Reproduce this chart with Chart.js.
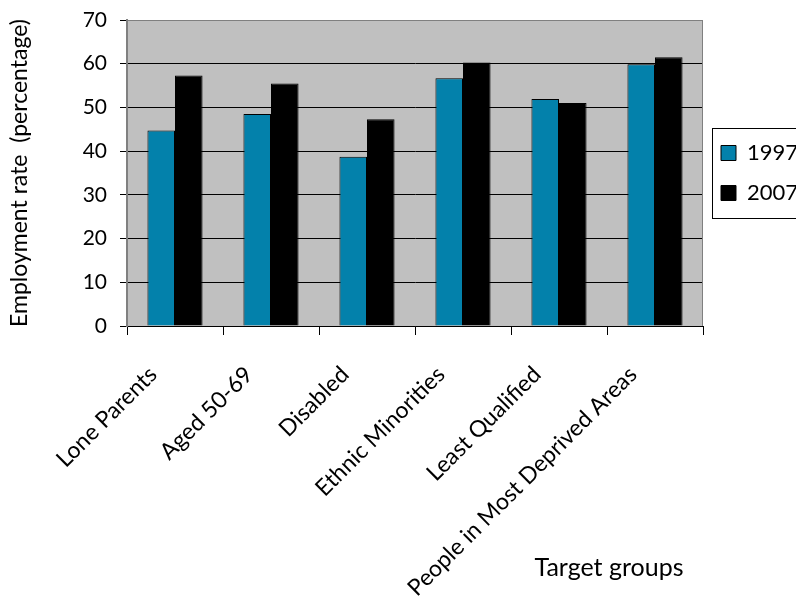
<!DOCTYPE html>
<html lang="en">

<head>
  <meta charset="UTF-8">
  <title>Employment rate by target group</title>
  <style>
    html, body { margin: 0; padding: 0; background: #fff; }
    #wrap { width: 796px; height: 616px; }
  </style>
</head>

<body>
  <div id="wrap"><canvas id="chart"></canvas></div>
  <script src="https://cdn.jsdelivr.net/npm/chart.js@4/dist/chart.umd.min.js"></script>
  <script>
    const groups = ['Lone Parents', 'Aged 50-69', 'Disabled', 'Ethnic Minorities', 'Least Qualified', 'People in Most Deprived Areas']
    const rate1997 = [44.7, 48.5, 38.7, 56.7, 51.9, 59.9]
    const rate2007 = [57.3, 55.5, 47.3, 60.3, 51.0, 61.5]
    const yTicks = [0, 10, 20, 30, 40, 50, 60, 70]

    const FONT = 'Lato, "DejaVu Sans", sans-serif'

    // grey plot background + legend frame + x title
    const decor = {
      id: 'decor',
      beforeDraw(chart) {
        const { ctx, chartArea: a } = chart
        ctx.save()
        ctx.fillStyle = '#c0c0c0'
        ctx.fillRect(a.left, a.top, a.right - a.left, a.bottom - a.top)
        ctx.restore()
      },
      afterDatasetsDraw(chart) {
        const { ctx, chartArea: a } = chart
        ctx.save()
        ctx.strokeStyle = '#808080'
        ctx.lineWidth = 1
        ctx.beginPath()
        ctx.moveTo(a.left, a.top + 0.5)
        ctx.lineTo(a.right - 0.5, a.top + 0.5)
        ctx.lineTo(a.right - 0.5, a.bottom)
        ctx.stroke()
        ctx.restore()
      },
      afterDraw(chart) {
        const { ctx, chartArea: a } = chart
        const boxes = chart.legend.legendHitBoxes
        ctx.save()
        if (boxes && boxes.length) {
          const top = boxes[0].top - 14
          const last = boxes[boxes.length - 1]
          const bottom = last.top + last.height + 14
          ctx.strokeStyle = '#000'
          ctx.lineWidth = 1
          ctx.strokeRect(chart.legend.left + 9.5, Math.round(top) + 0.5, 200, Math.round(bottom - top))
        }
        ctx.fillStyle = '#000'
        ctx.font = '25px ' + FONT
        ctx.textAlign = 'center'
        ctx.textBaseline = 'middle'
        ctx.fillText('Target groups', a.right - 94, 568)
        ctx.restore()
      }
    }

    new Chart(document.getElementById('chart'), {
      type: 'bar',
      data: {
        labels: groups,
        datasets: [
          {
            label: '1997',
            data: rate1997,
            backgroundColor: '#0381ab',
            borderColor: '#000',
            borderWidth: 1
          },
          {
            label: '2007',
            data: rate2007,
            backgroundColor: '#000',
            borderColor: '#000',
            borderWidth: 1
          }
        ]
      },
      options: {
        responsive: true,
        maintainAspectRatio: false,
        animation: false,
        layout: { padding: { top: 20, left: 0, right: 0, bottom: 0 } },
        datasets: {
          bar: { categoryPercentage: 0.574, barPercentage: 1 }
        },
        plugins: {
          tooltip: { enabled: false },
          legend: {
            position: 'right',
            fullSize: false,
            maxWidth: 93,
            labels: {
              color: '#000',
              font: { family: FONT, size: 22 },
              boxWidth: 15,
              boxHeight: 15,
              padding: 18
            }
          }
        },
        scales: {
          x: {
            grid: {
              offset: true,
              drawOnChartArea: false,
              tickLength: 9,
              color: '#000'
            },
            border: { color: '#000', width: 1 },
            ticks: {
              color: '#000',
              font: { family: FONT, size: 23 },
              minRotation: 45,
              maxRotation: 45,
              autoSkip: false,
              labelOffset: -22,
              padding: 26
            },
            afterFit(scale) { scale.height = 290 }
          },
          y: {
            min: 0,
            max: 70,
            afterBuildTicks(scale) { scale.ticks = yTicks.map(v => ({ value: v })) },
            grid: {
              color: ctx => ctx.tick && ctx.tick.value === 70 ? '#808080' : '#000',
              tickColor: '#000',
              tickLength: 7,
              lineWidth: 1
            },
            border: { color: '#808080', width: 2 },
            ticks: {
              color: '#000',
              font: { family: FONT, size: 21 },
              padding: 13
            },
            title: {
              display: true,
              text: 'Employment rate  (percentage)',
              color: '#000',
              font: { family: FONT, size: 23 },
              padding: { top: 6, bottom: 4 }
            },
            afterFit(scale) {
              scale.width = 127
              scale.paddingTop = 0
              scale.paddingBottom = 0
            }
          }
        }
      },
      plugins: [decor]
    })
  </script>
</body>

</html>
